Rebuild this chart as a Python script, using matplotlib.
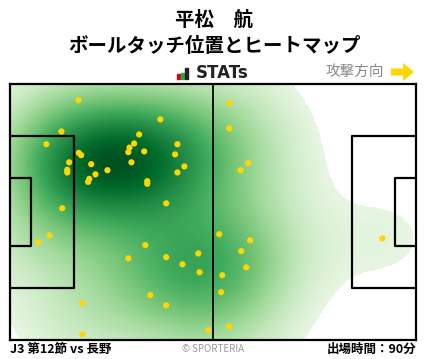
import numpy as np
import matplotlib
matplotlib.use('Agg')
from matplotlib import pyplot as plt
from matplotlib import patches
from matplotlib import colors

plt.rcParams['font.family'] = ['Noto Sans CJK JP', 'DejaVu Sans']

# ピッチ (105 x 68 m), y は上端から
PITCH_L = 105.0
PITCH_W = 68.0

# ボールタッチ位置
touch_x = [17.7, 38.9, 13.3, 9.4, 33.4, 32.1, 30.9, 30.6, 34.7, 43.3,
           42.7, 45.1, 43.3, 17.8, 18.4, 15.3, 14.8, 14.8, 21.0, 22.1,
           20.5, 20.2, 25.2, 31.4, 35.5, 35.5, 40.4, 13.5, 10.2, 7.3,
           35.0, 30.6, 40.4, 44.6, 48.7, 49.0, 36.3, 40.4, 18.7, 18.7,
           51.3, 56.7, 56.7, 61.6, 59.6, 54.1, 62.1, 59.8, 61.1, 54.9,
           54.6, 56.7, 96.3]
touch_y = [4.3, 9.4, 12.6, 16.0, 13.4, 15.8, 16.9, 18.1, 17.9, 16.0,
           18.7, 21.9, 23.5, 18.3, 18.9, 20.8, 22.8, 23.5, 21.3, 24.0,
           25.2, 26.0, 22.9, 20.8, 25.8, 26.5, 31.7, 33.0, 40.2, 42.0,
           42.8, 46.3, 46.0, 47.9, 45.0, 50.0, 56.1, 58.8, 58.2, 66.5,
           65.4, 5.1, 11.8, 21.0, 22.9, 39.9, 41.5, 44.4, 48.7, 50.8,
           55.3, 64.4, 41.0]

title_name = '平松\u3000航'
title_sub = 'ボールタッチ位置とヒートマップ'
match_text = 'J3 第12節 vs 長野'
minutes_text = '出場時間：90分'


def kde_grid(xs, ys, bw_x=12.5, bw_y=10.5):
    gx = np.linspace(0, PITCH_L, 640)
    gy = np.linspace(0, PITCH_W, 420)
    X, Y = np.meshgrid(gx, gy)
    Z = np.zeros_like(X)
    for x, y in zip(xs, ys):
        Z += np.exp(-((X - x) ** 2 / (2 * bw_x ** 2) + (Y - y) ** 2 / (2 * bw_y ** 2)))
    return Z / Z.max()


def draw_pitch(ax):
    lc = 'black'
    lw = 1.6
    ax.plot([PITCH_L / 2, PITCH_L / 2], [0, PITCH_W], color=lc, lw=1.3)
    box_d, box_w = 16.5, 40.32
    ga_d, ga_w = 5.5, 18.32
    for side in (0, 1):
        sx = 0 if side == 0 else PITCH_L
        sgn = 1 if side == 0 else -1
        y0 = (PITCH_W - box_w) / 2
        ax.plot([sx, sx + sgn * box_d, sx + sgn * box_d, sx],
                [y0, y0, y0 + box_w, y0 + box_w], color=lc, lw=lw)
        y1 = (PITCH_W - ga_w) / 2
        ax.plot([sx, sx + sgn * ga_d, sx + sgn * ga_d, sx],
                [y1, y1, y1 + ga_w, y1 + ga_w], color=lc, lw=lw)


fig = plt.figure(figsize=(4.28, 3.59), dpi=100)
ax = fig.add_axes([10 / 428, 19 / 359, 406 / 428, 256 / 359])

Z = kde_grid(touch_x, touch_y)
thresh = 0.045
Z = np.where(Z < thresh, np.nan, Z)
cmap = plt.get_cmap('Greens').copy()
cmap.set_bad('white')
ax.imshow(Z, extent=(0, PITCH_L, PITCH_W, 0), origin='upper', cmap=cmap,
          norm=colors.PowerNorm(gamma=0.7, vmin=0, vmax=1.06),
          interpolation='nearest', aspect='auto')

draw_pitch(ax)
ax.scatter(touch_x, touch_y, s=20, color='#ffd700', edgecolors='none', zorder=5)

ax.set_xlim(0, PITCH_L)
ax.set_ylim(PITCH_W, 0)
ax.set_xticks([])
ax.set_yticks([])
for sp in ax.spines.values():
    sp.set_linewidth(1.6)
    sp.set_color('black')

# ヘッダー
fig.text(0.5, 1 - 20 / 359, title_name, ha='center', va='center',
         fontsize=14, fontweight='bold')
fig.text(0.5, 1 - 46 / 359, title_sub, ha='center', va='center',
         fontsize=14, fontweight='bold')

# STATs ロゴ
for bx, bh, col in [(177, 5, '#e60012'), (181, 6, '#22ac38'), (185, 11, '#222222')]:
    fig.add_artist(patches.Rectangle((bx / 428, (359 - 79) / 359), 3 / 428, bh / 359,
                                     transform=fig.transFigure, color=col))
fig.text(196 / 428, 1 - 73 / 359, 'STATs', ha='left', va='center',
         fontsize=12, fontweight='bold', color='#222222', family='DejaVu Sans')

fig.text(355 / 428, 1 - 72 / 359, '攻撃方向', ha='center', va='center',
         fontsize=10.5, color='#888888')
fig.add_artist(patches.FancyArrow(391 / 428, 1 - 72 / 359, 12 / 428, 0,
                                  width=7 / 359, head_width=18 / 359,
                                  head_length=11 / 428, length_includes_head=False,
                                  transform=fig.transFigure, color='#ffd700', lw=0))

# フッター
fig.text(10 / 428, 1 - 349 / 359, match_text, ha='left', va='center',
         fontsize=9, fontweight='bold')
fig.text(213 / 428, 1 - 349 / 359, '© SPORTERIA', ha='center', va='center',
         fontsize=7, color='#999999')
fig.text(416 / 428, 1 - 349 / 359, minutes_text, ha='right', va='center',
         fontsize=9, fontweight='bold')

fig.savefig('out.png', dpi=100)
